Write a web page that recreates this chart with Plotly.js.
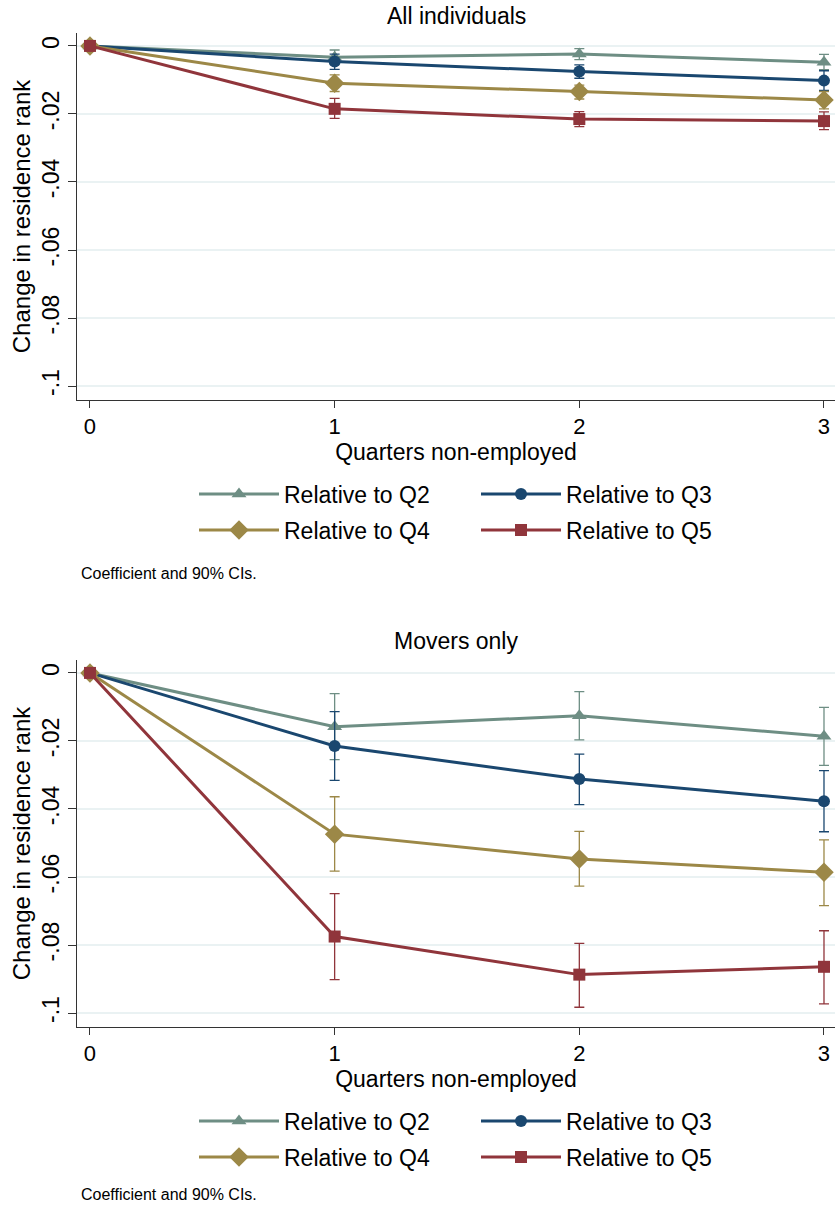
<!DOCTYPE html>
<html>
<head>
<meta charset="utf-8">
<script src="https://cdn.plot.ly/plotly-3.0.1.min.js"></script>
<style>html,body{margin:0;padding:0;background:#fff;}#chart{width:835px;height:1207px;}</style>
</head>
<body>
<div id="chart"></div>
<script>
// ---------- data ----------
var quarters = [0, 1, 2, 3];
var seriesNames = ["Relative to Q2", "Relative to Q3", "Relative to Q4", "Relative to Q5"];

// All individuals
var allQ2 = [0, -0.0033, -0.0024, -0.0048];
var allQ2Lo = [null, -0.0055, -0.0040, -0.0070];
var allQ2Hi = [null, -0.0012, -0.0008, -0.0025];
var allQ3 = [0, -0.0046, -0.0075, -0.0102];
var allQ3Lo = [null, -0.0069, -0.0095, -0.0131];
var allQ3Hi = [null, -0.0024, -0.0056, -0.0073];
var allQ4 = [0, -0.0110, -0.0134, -0.0159];
var allQ4Lo = [null, -0.0134, -0.0156, -0.0185];
var allQ4Hi = [null, -0.0085, -0.0115, -0.0134];
var allQ5 = [0, -0.0185, -0.0215, -0.0221];
var allQ5Lo = [null, -0.0213, -0.0237, -0.0246];
var allQ5Hi = [null, -0.0154, -0.0193, -0.0194];

// Movers only
var movQ2 = [0, -0.0158, -0.0126, -0.0186];
var movQ2Lo = [null, -0.0255, -0.0197, -0.0272];
var movQ2Hi = [null, -0.0061, -0.0055, -0.0101];
var movQ3 = [0, -0.0215, -0.0312, -0.0377];
var movQ3Lo = [null, -0.0316, -0.0387, -0.0467];
var movQ3Hi = [null, -0.0114, -0.0239, -0.0287];
var movQ4 = [0, -0.0474, -0.0547, -0.0586];
var movQ4Lo = [null, -0.0583, -0.0627, -0.0684];
var movQ4Hi = [null, -0.0364, -0.0466, -0.0491];
var movQ5 = [0, -0.0775, -0.0887, -0.0864];
var movQ5Lo = [null, -0.0902, -0.0983, -0.0973];
var movQ5Hi = [null, -0.0649, -0.0795, -0.0758];

var yTickVals = [0, -0.02, -0.04, -0.06, -0.08, -0.1];
var yTickText = ["0", "-.02", "-.04", "-.06", "-.08", "-.1"];
var xTickVals = [0, 1, 2, 3];
var xTickText = ["0", "1", "2", "3"];

// ---------- styles ----------
var colors = ["#6e8e84", "#1a476f", "#9c8847", "#90353b"];
var symbols = ["triangle-up", "circle", "diamond", "square"];
var sizes = [13, 12, 15, 12];
var FONT = "Liberation Sans, Arial, Helvetica, sans-serif";

function diff(a, b) { return a.map(function (v, i) { return (v === null || b[i] === null) ? NaN : v - b[i]; }); }

function makeTrace(k, y, lo, hi, xa, ya, leg) {
  return {
    x: quarters, y: y, name: seriesNames[k], type: "scatter", mode: "lines+markers",
    xaxis: xa, yaxis: ya, legend: leg,
    line: { color: colors[k], width: 3 },
    marker: { color: colors[k], symbol: symbols[k], size: sizes[k], line: { width: 0 } },
    error_y: { type: "data", symmetric: false, array: diff(hi, y), arrayminus: diff(y, lo),
               color: colors[k], thickness: 1.3, width: 5 },
    hoverinfo: "x+y+name"
  };
}

var topSets = [[allQ2, allQ2Lo, allQ2Hi], [allQ3, allQ3Lo, allQ3Hi], [allQ4, allQ4Lo, allQ4Hi], [allQ5, allQ5Lo, allQ5Hi]];
var botSets = [[movQ2, movQ2Lo, movQ2Hi], [movQ3, movQ3Lo, movQ3Hi], [movQ4, movQ4Lo, movQ4Hi], [movQ5, movQ5Lo, movQ5Hi]];
var topLegends = ["legend", "legend", "legend3", "legend3"];
var botLegends = ["legend2", "legend2", "legend4", "legend4"];

var traces = [];
topSets.forEach(function (s, k) { traces.push(makeTrace(k, s[0], s[1], s[2], "x", "y", topLegends[k])); });
botSets.forEach(function (s, k) { traces.push(makeTrace(k, s[0], s[1], s[2], "x2", "y2", botLegends[k])); });

var W = 835, H = 1207;
function py(p) { return 1 - p / H; }

function xAxis(anchor) {
  return {
    domain: [77 / W, 1], range: [-0.053, 3.045], anchor: anchor,
    tickmode: "array", tickvals: xTickVals, ticktext: xTickText,
    ticks: "outside", ticklen: 7, tickwidth: 1, tickcolor: "#333",
    showline: true, linecolor: "#333", linewidth: 1, mirror: false,
    showgrid: false, zeroline: false,
    tickfont: { family: FONT, size: 22, color: "#000" },
    title: { text: "Quarters non-employed", font: { family: FONT, size: 23, color: "#000" }, standoff: 2 }
  };
}
function yAxis(anchor, dom) {
  return {
    domain: dom, range: [-0.1041, 0.0038], anchor: anchor,
    tickmode: "array", tickvals: yTickVals, ticktext: yTickText, tickangle: -90,
    ticks: "outside", ticklen: 8, tickwidth: 1, tickcolor: "#333",
    showline: true, linecolor: "#333", linewidth: 1, mirror: false,
    showgrid: true, gridcolor: "#eaf2f3", gridwidth: 1.5, zeroline: false,
    tickfont: { family: FONT, size: 23, color: "#000" },
    title: { text: "Change in residence rank", font: { family: FONT, size: 24, color: "#000" }, standoff: 0 }
  };
}
function legendAt(yc) {
  return {
    orientation: "h", x: 194 / W, xanchor: "left", y: py(yc), yanchor: "middle",
    bgcolor: "rgba(0,0,0,0)", borderwidth: 0,
    font: { family: FONT, size: 23, color: "#000" },
    entrywidth: 187, entrywidthmode: "pixels", itemwidth: 80, traceorder: "normal"
  };
}

var layout = {
  width: W, height: H,
  margin: { l: 0, r: 0, t: 0, b: 0, pad: 0 },
  paper_bgcolor: "#fff", plot_bgcolor: "#fff",
  font: { family: FONT, color: "#000" },
  showlegend: true,
  xaxis: xAxis("y"),
  yaxis: yAxis("x", [py(400), py(33)]),
  xaxis2: xAxis("y2"),
  yaxis2: yAxis("x2", [py(1027), py(660)]),
  legend: legendAt(494),
  legend3: legendAt(530),
  legend2: legendAt(1121),
  legend4: legendAt(1157),
  annotations: [
    { text: "All individuals", xref: "paper", yref: "paper", x: 456 / W, y: py(16), xanchor: "center", yanchor: "middle", showarrow: false, font: { family: FONT, size: 23, color: "#000" } },
    { text: "Movers only", xref: "paper", yref: "paper", x: 456 / W, y: py(641), xanchor: "center", yanchor: "middle", showarrow: false, font: { family: FONT, size: 23, color: "#000" } },
    { text: "Coefficient and 90% CIs.", xref: "paper", yref: "paper", x: 79 / W, y: py(573), xanchor: "left", yanchor: "middle", showarrow: false, font: { family: FONT, size: 16, color: "#000" } },
    { text: "Coefficient and 90% CIs.", xref: "paper", yref: "paper", x: 79 / W, y: py(1194), xanchor: "left", yanchor: "middle", showarrow: false, font: { family: FONT, size: 16, color: "#000" } }
  ]
};

Plotly.newPlot("chart", traces, layout, { staticPlot: true, displayModeBar: false });
</script>
</body>
</html>
